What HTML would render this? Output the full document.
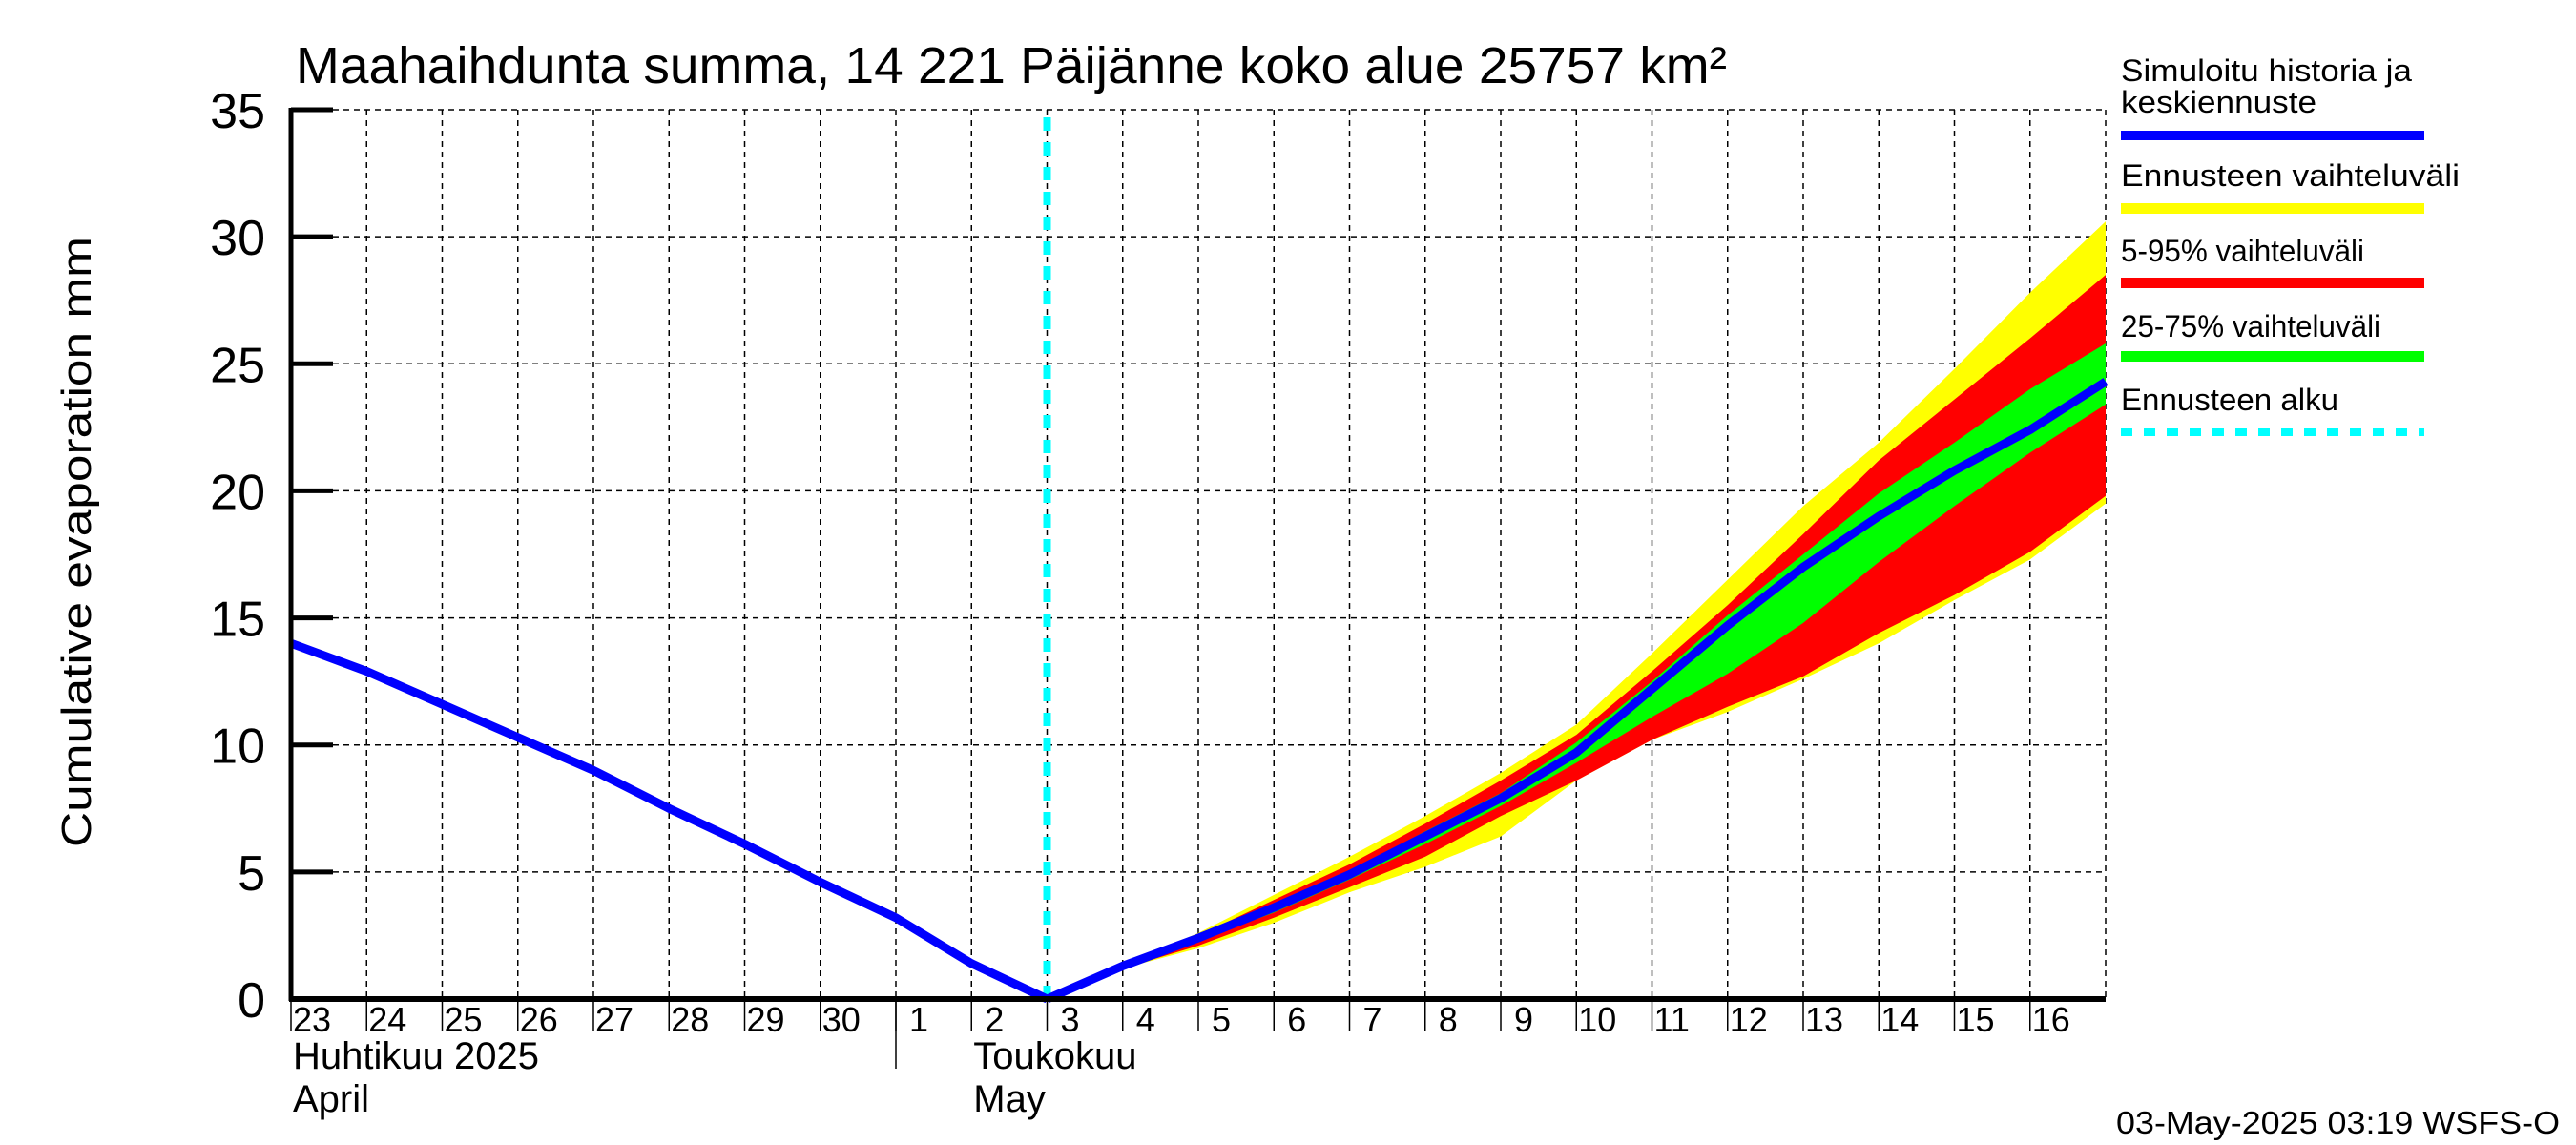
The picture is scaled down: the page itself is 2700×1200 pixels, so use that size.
<!DOCTYPE html>
<html><head><meta charset="utf-8"><style>
html,body{margin:0;padding:0;background:#fff;}
svg{display:block;font-family:"Liberation Sans",sans-serif;}
</style></head><body>
<svg id="chart" width="2700" height="1200" viewBox="0 0 2700 1200" xmlns="http://www.w3.org/2000/svg">
<g id="grid"></g>
<g id="bands"></g>
<g id="lines"></g>
<g id="axes"></g>
<text x="310" y="87" font-size="54" textLength="1500" lengthAdjust="spacingAndGlyphs">Maahaihdunta summa, 14 221 Päijänne koko alue 25757 km²</text>
<text transform="translate(95,568) rotate(-90)" text-anchor="middle" font-size="44" textLength="640" lengthAdjust="spacingAndGlyphs">Cumulative evaporation   mm</text>
<g font-size="32">
<text x="2223" y="85" textLength="305" lengthAdjust="spacingAndGlyphs">Simuloitu historia ja</text>
<text x="2223" y="118" textLength="205" lengthAdjust="spacingAndGlyphs">keskiennuste</text>
<rect x="2223" y="137" width="318" height="10" fill="#0000ff"/>
<text x="2223" y="195" textLength="355" lengthAdjust="spacingAndGlyphs">Ennusteen vaihteluväli</text>
<rect x="2223" y="213" width="318" height="11" fill="#ffff00"/>
<text x="2223" y="274" textLength="255" lengthAdjust="spacingAndGlyphs">5-95% vaihteluväli</text>
<rect x="2223" y="291" width="318" height="11" fill="#ff0000"/>
<text x="2223" y="353" textLength="272" lengthAdjust="spacingAndGlyphs">25-75% vaihteluväli</text>
<rect x="2223" y="368" width="318" height="11" fill="#00ff00"/>
<text x="2223" y="430" textLength="228" lengthAdjust="spacingAndGlyphs">Ennusteen alku</text>
<line x1="2223" y1="453" x2="2541" y2="453" stroke="#00ffff" stroke-width="8" stroke-dasharray="12,12"/>
</g>
<text x="2683" y="1188" text-anchor="end" font-size="33" textLength="465" lengthAdjust="spacingAndGlyphs">03-May-2025 03:19 WSFS-O</text>
</svg>
<script>
const dayLabels=["23","24","25","26","27","28","29","30","1","2","3","4","5","6","7","8","9","10","11","12","13","14","15","16"];
const yTicks=[0,5,10,15,20,25,30,35];
const histDays=[0,1,2,3,4,5,6,7,8,9,10];
const histVals=[14.0,12.9,11.6,10.3,9.0,7.5,6.1,4.6,3.2,1.4,0];
const fcDays=[10,11,12,13,14,15,16,17,18,19,20,21,22,23,24];
const medVals=[0,1.3,2.4,3.6,4.9,6.4,7.9,9.7,12.2,14.7,17.0,19.0,20.8,22.4,24.3];
const maxVals=[0,1.3,2.6,4.1,5.6,7.2,8.9,10.8,13.6,16.5,19.4,21.9,24.8,27.8,30.6];
const minVals=[0,1.2,2.0,3.0,4.2,5.2,6.4,8.6,10.2,11.3,12.6,14.0,15.7,17.3,19.5];
const p95Vals=[0,1.3,2.5,3.9,5.3,6.9,8.6,10.4,12.9,15.5,18.3,21.2,23.6,26.0,28.5];
const p05Vals=[0,1.2,2.1,3.2,4.4,5.6,7.2,8.6,10.2,11.5,12.7,14.4,15.9,17.6,19.8];
const p75Vals=[0,1.3,2.4,3.7,5.0,6.6,8.1,10.1,12.5,15.1,17.5,19.9,21.9,24.0,25.8];
const p25Vals=[0,1.25,2.3,3.4,4.7,6.1,7.6,9.3,11.1,12.8,14.8,17.2,19.4,21.5,23.4];
const forecastStart=10;
const L=305,R=2207,T=115,B=1047,NDAYS=24,YMAX=35;
const NS="http://www.w3.org/2000/svg";
function X(d){return L+(R-L)*d/NDAYS;}
function Y(v){return B-(B-T)*v/YMAX;}
function mk(tag,attrs,parent){const e=document.createElementNS(NS,tag);for(const k in attrs)e.setAttribute(k,attrs[k]);document.getElementById(parent).appendChild(e);return e;}
// grid
for(let i=1;i<=NDAYS;i++){const g=mk('line',{x1:X(i),y1:T,x2:X(i),y2:B,stroke:'#000','stroke-width':1.5,'stroke-dasharray':'6,5'},'grid');

}
yTicks.forEach(v=>{if(v===0)return;const g=mk('line',{x1:L,y1:Y(v),x2:R,y2:Y(v),stroke:'#000','stroke-width':1.5,'stroke-dasharray':'6,5'},'grid');

});
function band(up,lo,color,name){let d='';fcDays.forEach((dd,i)=>{d+=(i?'L':'M')+X(dd)+','+Y(up[i]);});
for(let i=fcDays.length-1;i>=0;i--)d+='L'+X(fcDays[i])+','+Y(lo[i]);d+='Z';
const p=mk('path',{d:d,fill:color},'bands');

}
band(maxVals,minVals,'#ffff00','band-min-max');
band(p95Vals,p05Vals,'#ff0000','band-5-95');
band(p75Vals,p25Vals,'#00ff00','band-25-75');
const fs=mk('line',{x1:X(forecastStart),y1:T+8,x2:X(forecastStart),y2:B,stroke:'#00ffff','stroke-width':8,'stroke-dasharray':'14,12'},'lines');


function line(days,vals,name){const pts=days.map((d,i)=>X(d)+','+Y(vals[i])).join(' ');
const p=mk('polyline',{points:pts,fill:'none',stroke:'#0000ff','stroke-width':9,'stroke-linejoin':'round'},'lines');

}
line(histDays,histVals,'history-line');
line(fcDays,medVals,'median-forecast-line');
// axes
const a1=mk('line',{x1:L,y1:T-2,x2:L,y2:B+2,stroke:'#000','stroke-width':5},'axes');


const a2=mk('line',{x1:L-2,y1:B,x2:R,y2:B,stroke:'#000','stroke-width':6},'axes');


yTicks.forEach(v=>{const t=mk('line',{x1:L,y1:Y(v),x2:L+44,y2:Y(v),stroke:'#000','stroke-width':5},'axes');


const tx=mk('text',{x:278,y:Y(v)+19,'text-anchor':'end','font-size':52},'axes');
tx.textContent=String(v);

});
dayLabels.forEach((lab,i)=>{const t=mk('line',{x1:X(i),y1:B,x2:X(i),y2:B+33,stroke:'#000','stroke-width':1.5},'axes');


const tx=mk('text',{x:X(i)+(lab.length>1?2:14),y:B+34,'font-size':36},'axes');
tx.textContent=lab;

});
const sep=mk('line',{x1:X(8),y1:B,x2:X(8),y2:1120,stroke:'#000','stroke-width':1.5},'axes');


[["Huhtikuu  2025",X(0)+2,1120],["April",X(0)+2,1165],["Toukokuu",X(9)+2,1120],["May",X(9)+2,1165]].forEach(m=>{
const tx=mk('text',{x:m[1],y:m[2],'font-size':40,'xml:space':'preserve'},'axes');
tx.textContent=m[0];

});
</script>
</body></html>
